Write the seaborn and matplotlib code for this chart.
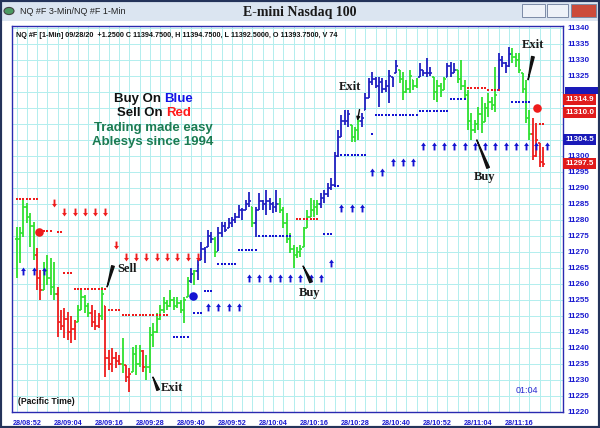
import numpy as np
import pandas as pd
import matplotlib
matplotlib.use("Agg")
import matplotlib.pyplot as plt
from matplotlib.path import Path
from matplotlib.patches import Rectangle, Circle
import seaborn as sns

# ---- 1-min bars, minute 0 = 08:49 ----
bar_hi = [
    11277.75, 11277.75, 11287, 11285.25, 11282.25, 11279.5, 11271.25, 11264.5, 11267, 11269,
    11268, 11267, 11259, 11252, 11252.5, 11251.25, 11250, 11248.75, 11253.5, 11258,
    11256.5, 11254, 11253.5, 11252, 11251, 11259, 11253, 11239.5, 11240, 11238.75,
    11237.75, 11243, 11234.75, 11233.75, 11240.25, 11241, 11241, 11239.5, 11237.75, 11246.5,
    11247.75, 11251, 11253.5, 11256, 11255, 11258, 11256, 11256, 11255, 11256,
    11262.25, 11265, 11264.5, 11267.5, 11273, 11271.5, 11277, 11276.25, 11274.75, 11277.75,
    11279.5, 11279.5, 11280.5, 11281, 11282.25, 11284.75, 11283.75, 11286.25, 11288.75, 11284,
    11284, 11288.5, 11286.25, 11289.5, 11287, 11285.5, 11289.5, 11287, 11284, 11282.25,
    11276, 11272.25, 11271.5, 11272.25, 11277.75, 11283, 11287, 11286.25, 11286.25, 11288.5,
    11289.5, 11291.5, 11293, 11301.25, 11308, 11312.75, 11314.5, 11314.5, 11309.75, 11309,
    11312.25, 11313.5, 11319.75, 11324.5, 11326.25, 11324.75, 11324.75, 11324.5, 11323.75, 11327,
    11324.75, 11330, 11327, 11326.25, 11323.75, 11327, 11323.75, 11324.5, 11329, 11327,
    11330.5, 11327.75, 11324.75, 11323.75, 11322.75, 11324.75, 11329, 11329.5, 11329, 11327,
    11330, 11323.75, 11320.5, 11313.5, 11311.25, 11315.25, 11318.5, 11316.5, 11319.75, 11318.5,
    11327.75, 11332.25, 11331.25, 11329.5, 11334, 11333.75, 11332.25, 11332.25, 11326, 11323.75,
    11314.5, 11312, 11310.25, 11304, 11302.75,
]
bar_lo = [
    11262, 11266.5, 11274.75, 11279, 11271.5, 11267.5, 11258, 11255, 11258, 11259.75,
    11256.5, 11255, 11243.5, 11245.5, 11243, 11242.5, 11241.5, 11242.5, 11248, 11252,
    11251, 11249.75, 11246.5, 11245.5, 11246.25, 11248.75, 11231, 11233, 11232.5, 11233.75,
    11234.75, 11232.25, 11229.5, 11226.25, 11232.5, 11231.5, 11234, 11232.5, 11230, 11232.25,
    11240.25, 11244.75, 11248.75, 11251, 11252, 11252.75, 11252, 11252.5, 11251, 11247.75,
    11256, 11260.25, 11259.75, 11261.25, 11267.5, 11266.5, 11271.5, 11272.75, 11268.5, 11270.25,
    11274.75, 11276.25, 11277.5, 11277.75, 11279, 11280.5, 11280, 11283, 11284, 11277.75,
    11274.75, 11283, 11283, 11281.5, 11283, 11282.25, 11282.5, 11282.25, 11277.5, 11272.75,
    11269.75, 11265, 11268, 11268.5, 11271.5, 11277.5, 11281, 11281, 11281.5, 11283.75,
    11285.25, 11287.25, 11289.5, 11290.25, 11299.75, 11306, 11309.75, 11309, 11304.5, 11304.5,
    11305, 11309, 11314.5, 11318, 11322.25, 11321.25, 11315.25, 11319.75, 11320, 11316.5,
    11321.5, 11326, 11322.75, 11317.5, 11319.75, 11319.75, 11320.5, 11321.25, 11324.75, 11325,
    11324.75, 11325, 11317.5, 11317, 11318.5, 11320.5, 11324.75, 11324.75, 11326, 11322.75,
    11320.5, 11317.5, 11308, 11305, 11307.25, 11308, 11307.25, 11310.5, 11312.25, 11314.5,
    11313.75, 11320.5, 11327.75, 11326, 11327.75, 11329, 11327.75, 11326, 11319.75, 11310.25,
    11305, 11298.75, 11299.75, 11296.5, 11296.5,
]
bar_close = [
    11274, 11276, 11284, 11281, 11278, 11269, 11262, 11258, 11264, 11262,
    11259, 11257, 11248, 11247, 11249, 11245, 11246, 11247, 11252, 11256,
    11253, 11251, 11248, 11247, 11250, 11257, 11237, 11235, 11237, 11236,
    11235, 11236, 11231, 11232, 11238, 11235, 11239, 11234, 11234, 11244,
    11245, 11249, 11252, 11254, 11253, 11255, 11253, 11254, 11252, 11255,
    11261, 11263, 11264, 11266, 11271, 11270, 11275, 11274, 11270, 11276,
    11278, 11277, 11279, 11280, 11281, 11283, 11283, 11285, 11286, 11279,
    11283, 11286, 11285, 11286, 11285, 11284, 11285, 11283, 11279, 11274,
    11271, 11269, 11270, 11271, 11277, 11281, 11283, 11284, 11285, 11287,
    11288, 11290, 11291, 11300, 11306, 11311, 11311, 11313, 11306, 11308,
    11311, 11312, 11318, 11323, 11324, 11322, 11323, 11321, 11322, 11325,
    11324, 11328, 11324, 11320, 11321, 11325, 11322, 11324, 11327, 11326,
    11326, 11326, 11320, 11322, 11320, 11324, 11328, 11326, 11327, 11324,
    11322, 11319, 11311, 11308, 11310, 11313, 11310, 11315, 11317, 11316,
    11319, 11330, 11329, 11328, 11332, 11331, 11330, 11327, 11321, 11312,
    11307, 11300, 11305, 11298, 11297.5,
]
# bar colour runs: g = green, r = red (sell), b = blue (buy)
color_runs = [("g", 6), ("r", 2), ("g", 4), ("r", 6), ("g", 4), ("r", 3), ("g", 1), ("r", 5),
              ("g", 1), ("r", 2), ("g", 3), ("r", 1), ("g", 13), ("b", 1), ("g", 1), ("b", 5),
              ("g", 1), ("b", 10), ("g", 1), ("b", 7), ("g", 12), ("b", 9), ("g", 3), ("b", 11),
              ("g", 6), ("b", 4), ("g", 4), ("b", 3), ("g", 12), ("b", 4), ("g", 6), ("r", 4)]

# ---- stop levels (dotted) ----
red_lvl_start = [0, 8, 12, 14, 17, 27, 31, 82, 87, 132, 138, 153]
red_lvl_end = [6, 10, 13, 16, 26, 30, 44, 86, 88, 137, 141, 154]
red_lvl_price = [11286.5, 11276.5, 11276.25, 11263.5, 11258.5, 11252, 11250.25,
                 11280.25, 11280.25, 11321.25, 11320.5, 11310]
blue_lvl_start = [46, 52, 55, 59, 65, 71, 90, 93, 95, 104, 105, 118, 127, 145]
blue_lvl_end = [50, 54, 57, 64, 70, 80, 92, 94, 102, 104, 117, 126, 131, 150]
blue_lvl_price = [11243.5, 11251, 11257.75, 11266.25, 11270.5, 11275, 11275.5, 11290.5,
                  11300.25, 11307, 11312.75, 11314, 11317.75, 11317]

# ---- signal arrows ----
red_arrow_min = [11, 14, 17, 20, 23, 26, 29, 32, 35, 38, 41, 44, 47, 50, 53]
red_arrow_price = [11285.25, 11282.5, 11282.5, 11282.5, 11282.5, 11282.5, 11272.25,
                   11268.5, 11268.5, 11268.5, 11268.5, 11268.5, 11268.5, 11268.5, 11268.5]
blue_arrow_min = [2, 5, 8, 56, 59, 62, 65, 68, 71, 74, 77, 80, 83, 86, 89, 92, 95, 98, 101,
                  104, 107, 110, 113, 116, 119, 122, 125, 128, 131, 134, 137, 140, 143, 146,
                  149, 152, 155]
blue_arrow_price = [11264, 11264, 11264, 11252.75, 11252.75, 11252.75, 11252.75,
                    11262, 11262, 11262, 11262, 11262, 11262, 11262, 11262, 11266.5,
                    11283.75, 11283.75, 11283.75, 11295, 11295, 11298, 11298, 11298,
                    11303, 11303, 11303, 11303, 11303, 11303, 11303, 11303, 11303, 11303,
                    11303, 11303, 11303]

# big entry dots
red_dot_min = [6.6, 152.2]
red_dot_price = [11276.25, 11315]
blue_dot_min = [51.6]
blue_dot_price = [11256.25]

# x-axis
tick_minutes = [3, 15, 27, 39, 51, 63, 75, 87, 99, 111, 123, 135, 147]
tick_labels = ["28/08:52", "28/09:04", "28/09:16", "28/09:28", "28/09:40", "28/09:52",
               "28/10:04", "28/10:16", "28/10:28", "28/10:40", "28/10:52", "28/11:04",
               "28/11:16"]
# right scale labels (the ones under the price boxes are hidden)
price_ticks = [11220, 11225, 11230, 11235, 11240, 11245, 11250, 11255, 11260, 11265, 11270,
               11275, 11280, 11285, 11290, 11295, 11300, 11320, 11325, 11330, 11335, 11340]

# price boxes on the right scale
box_price = [11317.5, 11313.5, 11305, 11297.5]
box_text = ["11314.9", "11310.0", "11304.5", "11297.5"]
box_kind = ["r", "r", "b", "r"]
hidden_box_price = 11320.0

# annotations: (text, text_min, text_price, line from (min, price), to (min, price))
notes = [
    ("Sell", 32.3, 11264.7, (28.2, 11265.6), (26.5, 11259.1)),
    ("Exit", 45.6, 11227.5, (41.4, 11226.9), (39.9, 11230.9)),
    ("Buy", 85.8, 11257.2, (86.1, 11260.6), (83.8, 11265.6)),
    ("Exit", 97.5, 11321.6, None, None),
    ("Buy", 137.0, 11293.4, (137.9, 11296.3), (134.6, 11305.0)),
    ("Exit", 151.0, 11334.7, (151.0, 11331.0), (149.6, 11323.8)),
]

sns.set_theme(style="white")
plt.rcParams["font.family"] = ["Liberation Sans", "DejaVu Sans"]

GREEN = "#2fe02f"
RED = "#ee1c1c"
BLUE = "#2020c0"
ABLUE = "#1414d2"
GRID = "#b2eeee"
pal = {"g": GREEN, "r": RED, "b": BLUE}

colors = []
for c, n in color_runs:
    colors += [c] * n
minutes = np.arange(len(bar_hi))
hi = np.array(bar_hi)
lo = np.array(bar_lo)
cl = np.array(bar_close)
op = np.clip(np.r_[cl[0], cl[:-1]], lo, hi)
bar_cols = [pal[c] for c in colors]

W, H = 600, 428
fig = plt.figure(figsize=(6, 4.28), dpi=100)
fig.patch.set_facecolor("white")


def fx(px):
    return px / W


def fy(py):
    return 1 - py / H


# window chrome
fig.add_artist(Rectangle((0, fy(21)), 1, 21 / H, transform=fig.transFigure,
                         facecolor="#dbe5f1", edgecolor="none", zorder=0))
fig.add_artist(Rectangle((0, 0), 1, 1, transform=fig.transFigure, fill=False,
                         edgecolor="#24335a", lw=3, zorder=10))
fig.add_artist(Circle((fx(9), fy(11)), 5 / W, transform=fig.transFigure,
                      facecolor="#4a9a62", edgecolor="#444444", lw=0.8, zorder=5))
fig.text(fx(20), fy(11.5), "NQ #F 3-Min/NQ #F 1-Min", fontsize=6.5, color="#222222",
         va="center", ha="left")
fig.text(0.5, fy(12.5), "E-mini Nasdaq 100", fontsize=10, fontweight="bold",
         family="Liberation Serif", color="#1a1a1a", va="center", ha="center")
for x0, x1, face in [(522, 545, "#eef2f8"), (547, 568, "#eef2f8"), (571, 596, "#cc4b3b")]:
    fig.add_artist(Rectangle((fx(x0), fy(17)), (x1 - x0) / W, 13 / H,
                             transform=fig.transFigure, facecolor=face,
                             edgecolor="#7b8aa6", lw=0.7, zorder=5))
fig.text(fx(533.5), fy(11), "–", fontsize=6, color="#333333", ha="center", va="center")
fig.text(fx(557.5), fy(10.5), "□", fontsize=6, color="#333333", ha="center", va="center")
fig.text(fx(583.5), fy(10.5), "x", fontsize=7, fontweight="bold", color="white",
         ha="center", va="center")

ax = fig.add_axes([fx(12), fy(412), (563 - 12) / W, (412 - 26) / H])
ax.set_facecolor("white")

# bars
ax.vlines(minutes, lo, hi, colors=bar_cols, lw=1.3, zorder=3)
ax.hlines(op, minutes - 0.5, minutes, colors=bar_cols, lw=1.2, zorder=3)
ax.hlines(cl, minutes, minutes + 0.5, colors=bar_cols, lw=1.2, zorder=3)


def expand_levels(starts, ends, prices):
    rows = []
    for s, e, p in zip(starts, ends, prices):
        for m in range(s, e + 1):
            rows.append((m, p))
    return pd.DataFrame(rows, columns=["minute", "price"])


red_lv = expand_levels(red_lvl_start, red_lvl_end, red_lvl_price)
blue_lv = expand_levels(blue_lvl_start, blue_lvl_end, blue_lvl_price)
sns.scatterplot(data=red_lv, x="minute", y="price", color=RED, marker="s", s=4.5,
                linewidth=0, ax=ax, zorder=4)
sns.scatterplot(data=blue_lv, x="minute", y="price", color=ABLUE, marker="s", s=4.5,
                linewidth=0, ax=ax, zorder=4)

up_arrow = Path([(0, 1), (0.62, 0.12), (0.24, 0.12), (0.24, -1), (-0.24, -1),
                 (-0.24, 0.12), (-0.62, 0.12), (0, 1)])
down_arrow = Path([(x, -y) for x, y in up_arrow.vertices])
sns.scatterplot(x=red_arrow_min, y=red_arrow_price, color=RED, marker=down_arrow, s=32,
                linewidth=0, ax=ax, zorder=4)
sns.scatterplot(x=blue_arrow_min, y=blue_arrow_price, color=ABLUE, marker=up_arrow, s=32,
                linewidth=0, ax=ax, zorder=4)
sns.scatterplot(x=red_dot_min, y=red_dot_price, color=RED, s=38, linewidth=0, ax=ax,
                zorder=5)
sns.scatterplot(x=blue_dot_min, y=blue_dot_price, color=ABLUE, s=38, linewidth=0, ax=ax,
                zorder=5)

# notes
for txt, tx, ty, p0, p1 in notes:
    ax.text(tx, ty, txt, fontsize=9, fontweight="bold", family="Liberation Serif",
            color="#1a1a1a", ha="center", va="center", zorder=6)
    if p0 is not None:
        ax.annotate("", xy=p1, xytext=p0,
                    arrowprops=dict(arrowstyle="wedge,tail_width=0.16", color="#111111",
                                    shrinkA=0, shrinkB=0), zorder=6)
ax.annotate("", xy=(99.7, 11311), xytext=(100.3, 11314.5),
            arrowprops=dict(arrowstyle="-|>", color="#111111", lw=1.0, mutation_scale=5,
                            shrinkA=0, shrinkB=0), zorder=6)

# axes, grid, ticks
ax.set_xlim(-1.32, 159.8)
ax.set_ylim(11220, 11340.6)
ax.set_xticks(tick_minutes)
ax.set_xticklabels(tick_labels)
ax.set_xticks(np.arange(0, 160, 3), minor=True)
ax.set_yticks(np.arange(11220, 11341, 5), minor=True)
ax.set_yticks(price_ticks)
ax.grid(True, which="both", axis="both", color=GRID, lw=0.7, zorder=0)
ax.set_axisbelow(True)
ax.yaxis.tick_right()
ax.tick_params(axis="y", which="both", length=0, pad=3.5, labelsize=5.8,
               labelcolor="#1a1ad0")
ax.tick_params(axis="x", which="both", direction="out", length=2.5, width=0.7,
               color="#2a2ab0", pad=3.5, labelsize=5.2, labelcolor="#1a1ad0")
for lbl in ax.get_xticklabels() + ax.get_yticklabels():
    lbl.set_fontweight("bold")
for sp in ax.spines.values():
    sp.set_color("#2a2ab0")
    sp.set_linewidth(1.0)
ax.set_xlabel("")
ax.set_ylabel("")

ax.text(0.007, 0.985, "NQ #F [1-Min] 09/28/20  +1.2500 C 11394.7500, H 11394.7500, "
        "L 11392.5000, O 11393.7500, V 74", transform=ax.transAxes, fontsize=5.2,
        fontweight="bold", color="#111111", ha="left", va="top", zorder=6)
ax.text(0.01, 0.015, "(Pacific Time)", transform=ax.transAxes, fontsize=6.2,
        fontweight="bold", color="#111111", ha="left", va="bottom", zorder=6)
ax.text(0.955, 0.045, "01:04", transform=ax.transAxes, fontsize=6.5, color="#2a2ad0",
        ha="right", va="bottom", zorder=6)

# legend block
fig.text(fx(161), fy(99), "Buy On", fontsize=9.5, fontweight="bold", color="#111111",
         ha="right", va="center", zorder=7)
fig.text(fx(164), fy(99), "Blue", fontsize=9.5, fontweight="bold", color="#1414e6",
         ha="left", va="center", zorder=7)
fig.text(fx(163), fy(113), "Sell On", fontsize=9.5, fontweight="bold", color="#111111",
         ha="right", va="center", zorder=7)
fig.text(fx(166), fy(113), "Red", fontsize=9.5, fontweight="bold", color="#ff1a1a",
         ha="left", va="center", zorder=7)
fig.text(fx(153), fy(128), "Trading made easy", fontsize=9.5, fontweight="bold",
         color="#1b7b52", ha="center", va="center", zorder=7)
fig.text(fx(153), fy(142), "Ablesys since 1994", fontsize=9.5, fontweight="bold",
         color="#1b7b52", ha="center", va="center", zorder=7)

# price boxes
trans = ax.get_yaxis_transform()
ax.add_patch(Rectangle((1.003, hidden_box_price - 0.6), 0.062, 2.2, transform=trans,
                       facecolor="#1a1ab8", edgecolor="none", clip_on=False, zorder=7))
for p, t, k in zip(box_price, box_text, box_kind):
    face = "#1a1ab8" if k == "b" else "#e01b1b"
    ax.text(1.004, p, t, transform=trans, fontsize=5.8, fontweight="bold", color="white",
            ha="left", va="center", clip_on=False, zorder=8,
            bbox=dict(boxstyle="square,pad=0.25", facecolor=face, edgecolor="none"))

fig.savefig("out.png", dpi=100)
